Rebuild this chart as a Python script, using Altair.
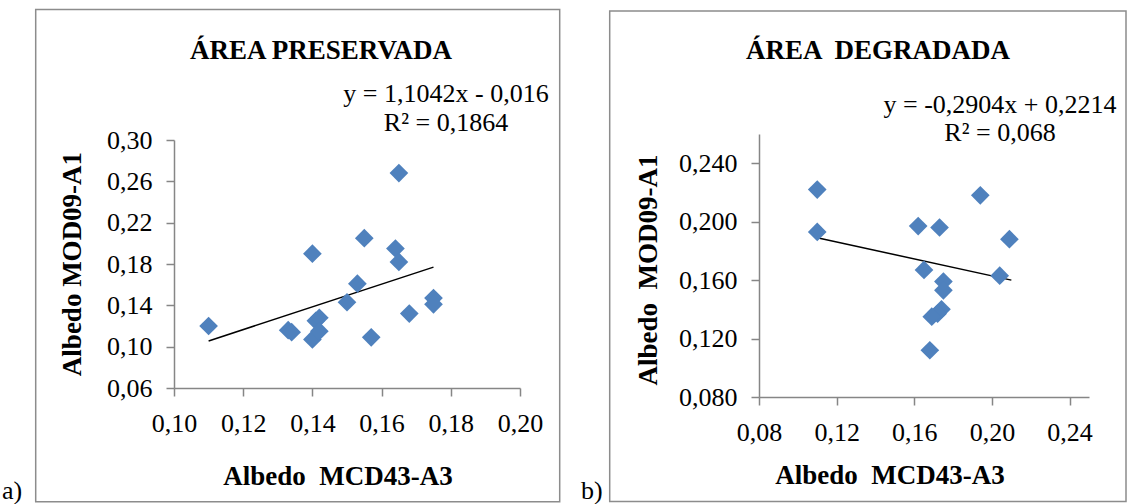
import altair as alt
import pandas as pd

# ---------------- data ----------------
# a) Área preservada
a_x = [0.110, 0.133, 0.134, 0.140, 0.141, 0.142, 0.142, 0.140, 0.150, 0.153,
       0.155, 0.157, 0.164, 0.165, 0.165, 0.168, 0.175, 0.175]
a_y = [0.120, 0.116, 0.114, 0.107, 0.125, 0.128, 0.115, 0.190, 0.143, 0.161,
       0.205, 0.109, 0.195, 0.182, 0.268, 0.132, 0.147, 0.141]
a_trend_x = [0.110, 0.175]
a_trend_y = [0.1055, 0.177]

# b) Área degradada
b_x = [0.110, 0.110, 0.162, 0.173, 0.194, 0.209, 0.165, 0.204, 0.175, 0.175,
       0.174, 0.172, 0.169, 0.168]
b_y = [0.222, 0.193, 0.197, 0.196, 0.218, 0.188, 0.167, 0.163, 0.159, 0.153,
       0.140, 0.137, 0.135, 0.112]
b_trend_x = [0.110, 0.210]
b_trend_y = [0.189, 0.160]

a_xticks = [0.10, 0.12, 0.14, 0.16, 0.18, 0.20]
a_yticks = [0.06, 0.10, 0.14, 0.18, 0.22, 0.26, 0.30]
b_xticks = [0.08, 0.12, 0.16, 0.20, 0.24]
b_yticks = [0.080, 0.120, 0.160, 0.200, 0.240]

FONT = "Liberation Serif"
BLUE = "#4F81BD"
GRAY = "#868686"
FS = 26
FSB = 27
SP = "\u00a0"


def one(**kw):
    return pd.DataFrame([kw])


def txt(x, y, s, bold=False, align="center", angle=None):
    props = dict(font=FONT, fontSize=FSB if bold else FS, color="black", align=align,
                 baseline="alphabetic", fontWeight="bold" if bold else "normal")
    if angle is not None:
        props["angle"] = angle
    return alt.Chart(one(t=s)).mark_text(**props).encode(
        x=alt.value(x), y=alt.value(y), text="t:N")


def panel(xs, ys, tx, ty, xdom, ydom, xt, yt, xfmt, yfmt, W, H, yrange,
          frame, tag, title, eq1, eq2, ytitle, xtitle):
    df = pd.DataFrame({"x": xs, "y": ys})
    tdf = pd.DataFrame({"x": tx, "y": ty})
    xs_ = alt.Scale(domain=xdom, nice=False, zero=False)
    ys_ = alt.Scale(domain=ydom, nice=False, zero=False, range=yrange)
    xax = alt.Axis(values=xt, labelExpr=f"replace(format(datum.value, '{xfmt}'), '.', ',')",
                   title=None, grid=False)
    yax = alt.Axis(values=yt, labelExpr=f"replace(format(datum.value, '{yfmt}'), '.', ',')",
                   title=None, grid=False)
    pts = alt.Chart(df).mark_point(shape="diamond", filled=True, size=350,
                                   color=BLUE, opacity=1).encode(
        x=alt.X("x:Q", scale=xs_, axis=xax),
        y=alt.Y("y:Q", scale=ys_, axis=yax))
    line = alt.Chart(tdf).mark_line(color="black", strokeWidth=1.5).encode(
        x=alt.X("x:Q", scale=xs_), y=alt.Y("y:Q", scale=ys_))
    fx1, fx2, fy1, fy2 = frame
    box = alt.Chart(one(k=1)).mark_rect(fillOpacity=0, stroke="#8c8c8c",
                                        strokeWidth=1.5).encode(
        x=alt.value(fx1), x2=alt.value(fx2), y=alt.value(fy1), y2=alt.value(fy2))
    layers = [box,
              txt(tag[0], tag[1], tag[2], align="left"),
              txt(title[0], title[1], title[2], bold=True),
              txt(eq1[0], eq1[1], eq1[2]),
              txt(eq2[0], eq2[1], eq2[2]),
              txt(ytitle[0], ytitle[1], ytitle[2], bold=True, angle=270),
              txt(xtitle[0], xtitle[1], xtitle[2], bold=True),
              line, pts]
    return alt.layer(*layers).properties(width=W, height=H)


pa = panel(a_x, a_y, a_trend_x, a_trend_y, [0.10, 0.20], [0.06, 0.30],
           a_xticks, a_yticks, ".2f", ".2f", 346, 254, [254, 6],
           frame=(-138.3, 385.7, -124.6, 367.7),
           tag=(-172, 365, "a)"),
           title=(147, -75, "ÁREA PRESERVADA"),
           eq1=(272, -32, "y = 1,1042x - 0,016"),
           eq2=(272, -3, "R² = 0,1864"),
           ytitle=(-93, 130, "Albedo MOD09-A1"),
           xtitle=(164, 351, "Albedo " + SP + "MCD43-A3"))

pb = panel(b_x, b_y, b_trend_x, b_trend_y, [0.08, 0.25], [0.08, 0.26],
           b_xticks, b_yticks, ".2f", ".3f", 330, 263, [263, 0],
           frame=(-149.3, 367, -123, 367.5),
           tag=(-178, 365, "b)"),
           title=(119, -75, "ÁREA " + SP + "DEGRADADA"),
           eq1=(241, -21, "y = -0,2904x + 0,2214"),
           eq2=(241, 7, "R² = 0,068"),
           ytitle=(-102, 136, "Albedo " + SP + "MOD09-A1"),
           xtitle=(131, 350, "Albedo " + SP + "MCD43-A3"))

chart = alt.hconcat(pa, pb, spacing=20).properties(
    padding={"left": 2, "top": 8, "right": 0, "bottom": 0},
    background="white",
).configure_view(strokeWidth=0).configure_axis(
    domainColor=GRAY, tickColor=GRAY, domainWidth=1.5, tickWidth=1.5, tickSize=8,
    labelFont=FONT, labelFontSize=FS, labelColor="black", labelPadding=14,
    labelFlush=False,
)

chart.save("out.html", embed_options={"renderer": "svg", "actions": False})
